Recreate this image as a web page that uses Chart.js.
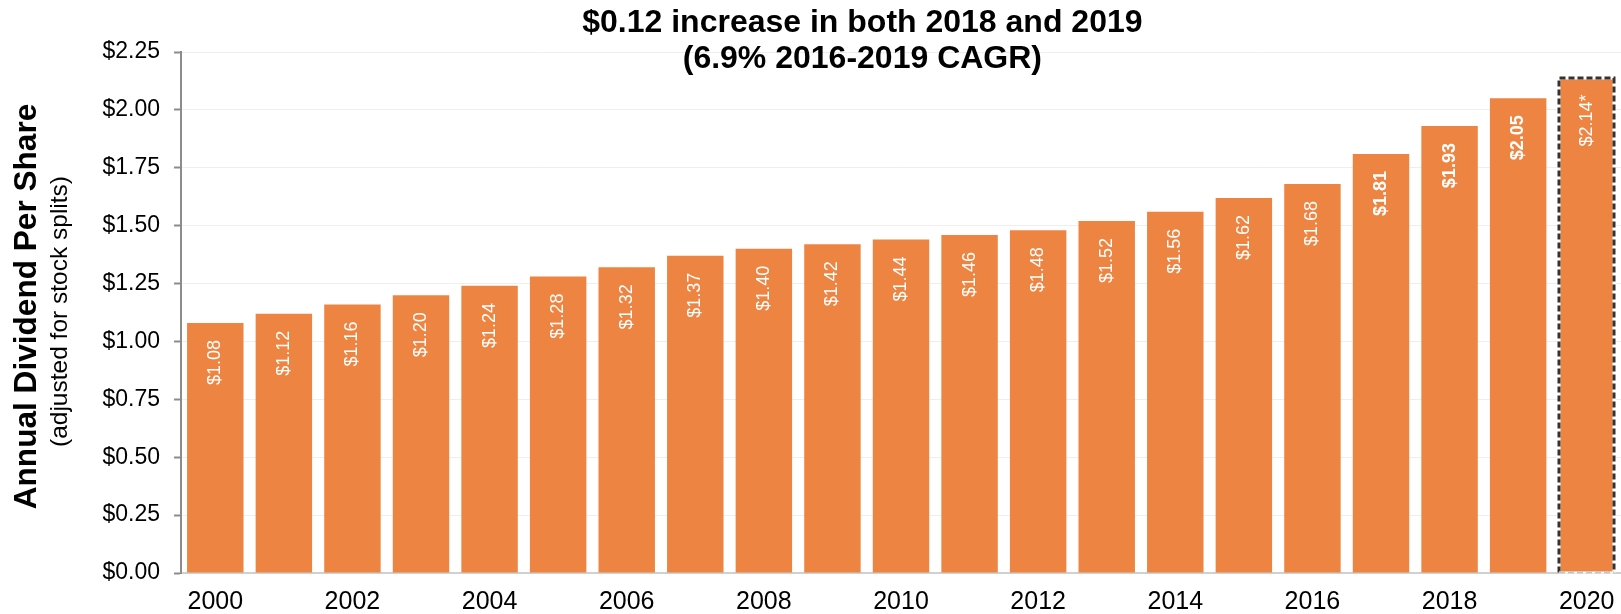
<!DOCTYPE html>
<html>
<head>
<meta charset="utf-8">
<title>Annual Dividend Per Share</title>
<script src="https://cdn.jsdelivr.net/npm/chart.js@4.4.1/dist/chart.umd.min.js"></script>
<style>
  html, body { margin: 0; padding: 0; background: #ffffff; }
  #container { display: block; }
</style>
</head>
<body>
<canvas id="container" width="1621" height="614"></canvas>
<script>
const FONT = 'Arial, "Liberation Sans", sans-serif';

const years = ['2000', '2001', '2002', '2003', '2004', '2005', '2006', '2007', '2008', '2009',
               '2010', '2011', '2012', '2013', '2014', '2015', '2016', '2017', '2018', '2019', '2020'];
const dividends = [1.08, 1.12, 1.16, 1.20, 1.24, 1.28, 1.32, 1.37, 1.40, 1.42,
                   1.44, 1.46, 1.48, 1.52, 1.56, 1.62, 1.68, 1.81, 1.93, 2.05, 2.14];
const boldYears = ['2017', '2018', '2019'];
const estimatedYear = '2020';

const titleLines = ['$0.12 increase in both 2018 and 2019', '(6.9% 2016-2019 CAGR)'];
const axisTitle = 'Annual Dividend Per Share';
const axisSubtitle = '(adjusted for stock splits)';

const BAR_COLOR = '#ed8441';

function money(v) {
    return '$' + Number(v).toFixed(2);
}

function outline(ctx, left, right, top, base) {
    ctx.beginPath();
    ctx.moveTo(left, base);
    ctx.lineTo(left, top);
    ctx.lineTo(right, top);
    ctx.lineTo(right, base);
    ctx.stroke();
}

// value labels written up the inside of each bar, plus the dashed outline on the estimate
const barDecorations = {
    id: 'barDecorations',
    afterDatasetsDraw(chart) {
        const ctx = chart.ctx;
        const meta = chart.getDatasetMeta(0);
        meta.data.forEach((bar, i) => {
            const year = years[i];
            const left = Math.round(bar.x - bar.width / 2) + 1;
            const right = Math.round(bar.x + bar.width / 2) - 1;
            const top = Math.round(bar.y) + 1;

            if (year === estimatedYear) {
                ctx.save();
                ctx.lineWidth = 3;
                ctx.strokeStyle = '#ffffff';
                outline(ctx, left, right, top, bar.base);
                ctx.setLineDash([6, 3]);
                ctx.strokeStyle = '#333333';
                outline(ctx, left, right, top, bar.base);
                ctx.lineWidth = 2;
                ctx.setLineDash([]);
                ctx.strokeStyle = '#ffffff';
                ctx.beginPath();
                ctx.moveTo(left, bar.base);
                ctx.lineTo(right, bar.base);
                ctx.stroke();
                ctx.setLineDash([6, 3]);
                ctx.strokeStyle = '#c4c4c4';
                ctx.stroke();
                ctx.restore();
            }

            let text = money(dividends[i]);
            if (year === estimatedYear) text += '*';
            ctx.save();
            ctx.translate(bar.x, bar.y + 17);
            ctx.rotate(-Math.PI / 2);
            ctx.fillStyle = '#ffffff';
            ctx.font = (boldYears.includes(year) ? 'bold ' : '') + '18px ' + FONT;
            ctx.textAlign = 'right';
            ctx.textBaseline = 'middle';
            ctx.fillText(text, 0, 0);
            ctx.restore();
        });
    }
};

// headline and the two-part vertical axis title
const headings = {
    id: 'headings',
    afterDraw(chart) {
        const ctx = chart.ctx;
        const area = chart.chartArea;
        const midY = (area.top + area.bottom) / 2;

        ctx.save();
        ctx.fillStyle = '#000000';
        ctx.textAlign = 'center';
        ctx.textBaseline = 'alphabetic';
        ctx.font = 'bold 32px ' + FONT;
        const titleX = chart.width * 0.532;
        ctx.fillText(titleLines[0], titleX, 32);
        ctx.fillText(titleLines[1], titleX, 68);
        ctx.restore();

        ctx.save();
        ctx.fillStyle = '#000000';
        ctx.textAlign = 'center';
        ctx.textBaseline = 'alphabetic';
        ctx.translate(36, midY - 6);
        ctx.rotate(-Math.PI / 2);
        ctx.font = 'bold 31.6px ' + FONT;
        ctx.fillText(axisTitle, 0, 0);
        ctx.restore();

        ctx.save();
        ctx.fillStyle = '#000000';
        ctx.textAlign = 'center';
        ctx.textBaseline = 'alphabetic';
        ctx.translate(67, midY - 1);
        ctx.rotate(-Math.PI / 2);
        ctx.font = '24.5px ' + FONT;
        ctx.fillText(axisSubtitle, 0, 0);
        ctx.restore();
    }
};

const chart = new Chart(document.querySelector('#container'), {
    type: 'bar',
    data: {
        labels: years,
        datasets: [{
            label: 'Annual Dividend Per Share',
            data: dividends,
            backgroundColor: BAR_COLOR,
            borderWidth: 0,
            barPercentage: 0.823,
            categoryPercentage: 1.0
        }]
    },
    options: {
        responsive: false,
        animation: false,
        layout: {
            padding: { top: 52, right: 0, bottom: 0, left: 0 }
        },
        plugins: {
            legend: { display: false },
            title: { display: false },
            tooltip: { enabled: false }
        },
        scales: {
            x: {
                offset: true,
                afterFit: (scale) => {
                    scale.height = 41;
                    scale.paddingLeft = 0;
                    scale.paddingRight = 0;
                },
                grid: { display: false, drawTicks: false },
                border: { display: true, color: '#d0d0d0', width: 2 },
                ticks: {
                    autoSkip: false,
                    maxRotation: 0,
                    padding: 14,
                    color: '#000000',
                    font: { family: FONT, size: 25 },
                    callback: (value, index) => (index % 2 === 0 ? years[index] : '')
                }
            },
            y: {
                min: 0,
                max: 2.25,
                afterFit: (scale) => { scale.width = 181; },
                grid: {
                    color: '#eeeeee',
                    lineWidth: 1,
                    drawTicks: true,
                    tickLength: 7,
                    tickColor: '#8c8c8c',
                    tickWidth: 2
                },
                border: { display: true, color: '#8c8c8c', width: 2 },
                ticks: {
                    stepSize: 0.25,
                    padding: 14,
                    color: '#000000',
                    font: { family: FONT, size: 23 },
                    callback: (value) => money(value)
                }
            }
        }
    },
    plugins: [barDecorations, headings]
});
</script>
</body>
</html>
